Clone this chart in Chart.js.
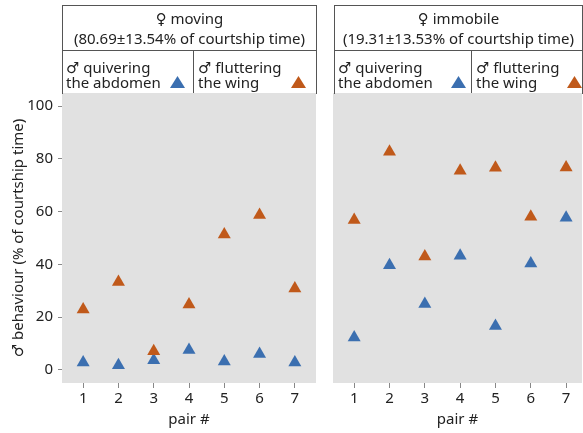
<!DOCTYPE html>
<html><head><meta charset="utf-8">
<script src="https://cdn.jsdelivr.net/npm/chart.js@4"></script>
<style>
body{margin:0;width:583px;height:433px;overflow:hidden;background:#fff;font-family:"Noto Sans","DejaVu Sans",sans-serif;color:#222;position:relative}
canvas{position:absolute;top:0}
.box{position:absolute;border:1px solid #555;box-sizing:border-box}
.ln{position:absolute;background:#555}
.t{position:absolute;white-space:nowrap;font-size:15px;line-height:20px;text-align:center}
.lg{position:absolute;white-space:nowrap;font-size:15px;line-height:15px}
.tri{position:absolute;width:15px;height:12px;clip-path:polygon(50% 0,100% 100%,0 100%)}
</style></head><body>
<canvas id="c1" width="320" height="433" style="left:0"></canvas>
<canvas id="c2" width="263" height="433" style="left:320px"></canvas>

<div class="box" style="left:62px;top:5px;width:255px;height:89px;border-bottom:none"></div>
<div class="ln" style="left:62px;top:50px;width:255px;height:1px"></div>
<div class="ln" style="left:193px;top:50px;width:1px;height:43px"></div>
<div class="t" style="left:62px;top:8px;width:255px">♀ moving<br>(80.69±13.54% of courtship time)</div>
<div class="lg" style="left:66px;top:60px">♂ quivering<br>the abdomen</div>
<div class="lg" style="left:198px;top:60px">♂ fluttering<br>the wing</div>
<div class="tri" style="left:170px;top:76px;background:#3b6fb0"></div>
<div class="tri" style="left:291px;top:76px;background:#c0591a"></div>

<div class="box" style="left:334px;top:5px;width:249px;height:89px;border-bottom:none"></div>
<div class="ln" style="left:334px;top:50px;width:249px;height:1px"></div>
<div class="ln" style="left:471px;top:50px;width:1px;height:43px"></div>
<div class="t" style="left:334px;top:8px;width:249px">♀ immobile<br>(19.31±13.53% of courtship time)</div>
<div class="lg" style="left:338px;top:60px">♂ quivering<br>the abdomen</div>
<div class="lg" style="left:476px;top:60px">♂ fluttering<br>the wing</div>
<div class="tri" style="left:451px;top:76px;background:#3b6fb0"></div>
<div class="tri" style="left:567px;top:76px;background:#c0591a"></div>

<script>
const pairs = [1,2,3,4,5,6,7];
const movingQuiver = [2.8,1.7,3.6,7.5,3.2,6.0,2.8];
const movingFlutter = [22.9,33.3,7.0,24.8,51.3,58.7,30.8];
const immobileQuiver = [12.3,39.7,25.0,43.3,16.6,40.3,57.7];
const immobileFlutter = [56.8,82.7,43.0,75.5,76.6,58.1,76.7];
const yTicks = [0,20,40,60,80,100];

const BLUE = '#3b6fb0', ORANGE = '#c0591a', TXT = '#222';
const FONT = {family:'"Noto Sans", "DejaVu Sans", sans-serif', size:15};

const bg = {id:'bg', beforeDraw(chart){
  const {ctx, chartArea:a} = chart;
  ctx.save(); ctx.fillStyle = '#e1e1e1';
  ctx.fillRect(a.left, a.top, a.right-a.left, a.bottom-a.top);
  ctx.restore();
}};

function pts(arr){ return pairs.map((p,i)=>({x:p, y:arr[i]})); }
function ds(arr, color){
  return {data:pts(arr), backgroundColor:color, borderWidth:0, pointStyle:'triangle', pointRadius:7.5, pointHoverRadius:7.5};
}

function makeChart(id, quiver, flutter, showY, pad, xmax){
  return new Chart(document.getElementById(id), {
    type:'scatter',
    data:{datasets:[ds(flutter, ORANGE), ds(quiver, BLUE)]},
    options:{
      responsive:false, animation:false,
      layout:{padding:pad, autoPadding:false},
      plugins:{legend:{display:false}, tooltip:{enabled:false}},
      scales:{
        x:{type:'linear', min:0.4, max:xmax,
          afterBuildTicks:s=>{s.ticks = pairs.map(v=>({value:v}));},
          afterFit:s=>{s.height = 50; s.paddingLeft = 0; s.paddingRight = 0;},
          grid:{drawOnChartArea:false, tickLength:5, color:'#888'},
          border:{display:false},
          ticks:{font:FONT, color:TXT, padding:2, maxRotation:0},
          title:{display:true, text:'pair #', font:FONT, color:TXT, padding:{top:0,bottom:4}}
        },
        y:{type:'linear', min:-5, max:105, display:showY,
          afterBuildTicks:s=>{s.ticks = yTicks.map(v=>({value:v}));},
          afterFit:s=>{s.width = showY ? 62 : 0; s.paddingTop = 0; s.paddingBottom = 0;},
          grid:{drawOnChartArea:false, tickLength:4, color:'#888'},
          border:{display:false},
          ticks:{font:FONT, color:TXT, padding:5},
          title:{display:true, text:'♂ behaviour (% of courtship time)', font:FONT, color:TXT, padding:{top:10,bottom:0}}
        }
      }
    },
    plugins:[bg]
  });
}
makeChart('c1', movingQuiver, movingFlutter, true, {top:93,right:4,left:0,bottom:0}, 7.6);
makeChart('c2', immobileQuiver, immobileFlutter, false, {top:93,right:1,left:13,bottom:0}, 7.45);
</script>
</body></html>
